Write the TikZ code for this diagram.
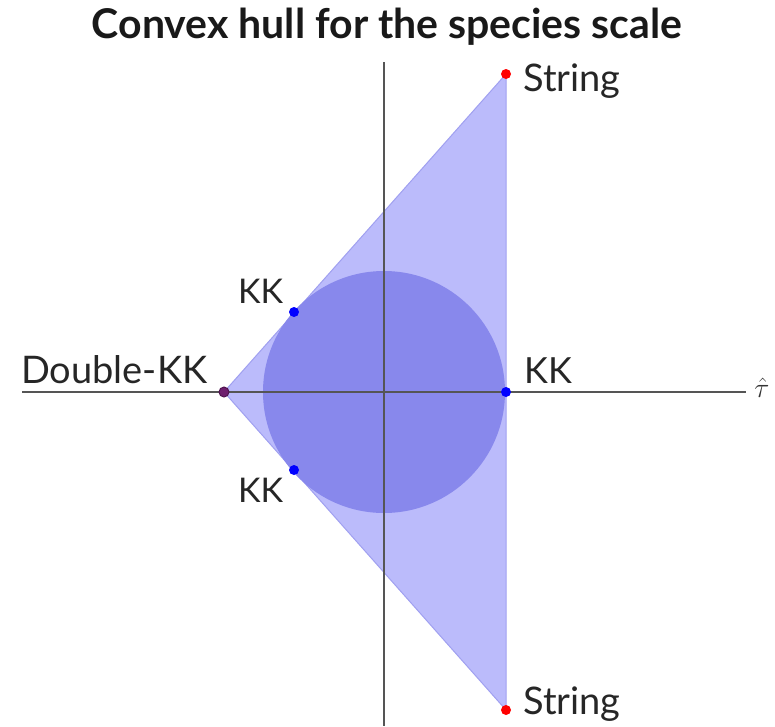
\documentclass[tikz,border=0pt]{standalone}
\usepackage{fontspec}
\usepackage{fix-cm}
\setmainfont{Lato}
\begin{document}
\begin{tikzpicture}[x=1pt,y=-1pt,
  lbl/.style={inner sep=0pt, text=black!85, anchor=base west},
  dot/.style={circle, inner sep=0pt, minimum size=10pt},
  hull/.style={fill={rgb,255:red,187;green,187;blue,251}, draw={rgb,255:red,160;green,160;blue,240}, line width=1pt},
  disk/.style={fill={rgb,255:red,136;green,136;blue,236}},
  axis/.style={draw={rgb,255:red,85;green,85;blue,85}, line width=2pt}]
\useasboundingbox (0,0) rectangle (775,726);
\coordinate (O) at (384,392);
\coordinate (dkk) at (224,392);
\coordinate (st) at (506,74);
\coordinate (sb) at (506,710);
\coordinate (kr) at (506,392);
\coordinate (ku) at (294,312);
\coordinate (kl) at (294,470);
\coordinate (xl) at (22,392);
\coordinate (xr) at (746,392);
\coordinate (yt) at (384,62);
\coordinate (yb) at (384,726);
% hull and disk
\path[hull] (dkk) -- (st) -- (sb) -- cycle;
\path[disk] (O) circle[radius=121];
% axes
\path[axis] (xl) -- (xr);
\path[axis] (yt) -- (yb);
% points
\node[dot, fill=red] (pst) at (st) {};
\node[dot, fill=red] (psb) at (sb) {};
\node[dot, fill=blue] (pkr) at (kr) {};
\node[dot, fill=blue] (pku) at (ku) {};
\node[dot, fill=blue] (pkl) at (kl) {};
\node[dot, fill={rgb,255:red,110;green,30;blue,110}, draw={rgb,255:red,80;green,20;blue,80}, line width=1pt] (pdkk) at (dkk) {};
% labels
\node[inner sep=0pt, anchor=base, font=\bfseries\fontsize{41}{46}\selectfont, text=black!90] (title) at (387,38) {Convex hull for the species scale};
\node[lbl, font=\fontsize{38}{42}\selectfont] (lst) at (523,91) {String};
\node[lbl, font=\fontsize{38}{42}\selectfont] (lsb) at (523,714) {String};
\node[lbl, font=\fontsize{36}{40}\selectfont] (lkr) at (524,383) {KK};
\node[lbl, font=\fontsize{34}{38}\selectfont] (lku) at (238,303) {KK};
\node[lbl, font=\fontsize{34}{38}\selectfont] (lkl) at (238,502) {KK};
\node[lbl, font=\fontsize{38}{42}\selectfont] (ldkk) at (21,383) {Double-KK};
\node[inner sep=0pt, font=\fontsize{28}{30}\selectfont, text=black!80] (tau) at (762,388) {$\hat{\tau}$};
\end{tikzpicture}
\end{document}
